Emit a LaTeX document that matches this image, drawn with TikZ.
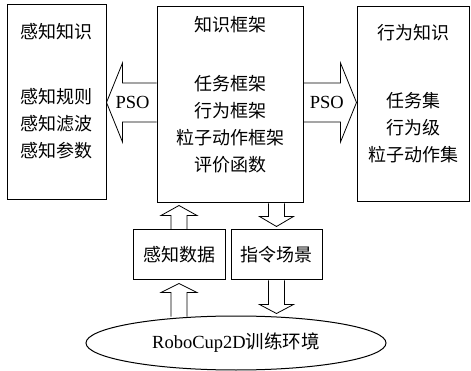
\documentclass[tikz,border=0pt]{standalone}
\usepackage{fontspec}
\setmainfont{Liberation Serif}
\newfontfamily\cjk{Noto Sans CJK SC}
\usepackage{tikz}
\usetikzlibrary{positioning, calc, shapes.geometric}
\tikzset{
    boite/.style={draw, line width=1pt, rectangle, inner sep=0pt},
    texte/.style={font={\cjk\fontsize{18}{27}\selectfont}, align=center, inner sep=0pt},
    lat/.style={font={\fontsize{18.5}{27}\selectfont}, inner sep=0pt},
    bloc/.style={draw, line width=0.8pt, line join=miter},
}

\begin{document}
\begin{tikzpicture}[x=1pt, y=-1pt]
    \useasboundingbox (0,0) rectangle (471,371);

    % Trois grands blocs
    \node[boite, minimum width=99pt, minimum height=195pt] (perception) at (56.5, 102.5) {};
    \node[boite, minimum width=146pt, minimum height=196pt] (cadre) at (230, 105) {};
    \node[boite, minimum width=112pt, minimum height=195pt] (action) at (413, 104.5) {};

    % Textes des blocs
    \node[texte] (tPerception) at (56.5, 32) {感知知识};
    \node[texte] (lPerception) at (56.5, 123.5) {感知规则\\感知滤波\\感知参数};
    \node[texte] (tCadre) at (230, 25) {知识框架};
    \node[texte] (lCadre) at (230, 124) {任务框架\\行为框架\\粒子动作框架\\评价函数};
    \node[texte] (tAction) at (413, 33) {行为知识};
    \node[texte] (lAction) at (413, 127.5) {任务集\\行为级\\粒子动作集};

    % Petits blocs et environnement
    \node[boite, texte, minimum width=92pt, minimum height=50pt] (donnees) at (179, 255) {感知数据};
    \node[boite, texte, minimum width=91pt, minimum height=50pt] (scene) at (276.5, 255) {指令场景};
    \node[draw, line width=1pt, ellipse, inner sep=0pt, minimum width=300pt, minimum height=54pt, lat] (env) at (236, 343) {RoboCup2D{\cjk 训练环境}};

    % Flèche PSO vers la gauche
    \coordinate (pG) at (perception.east);
    \coordinate (bG) at (cadre.west |- perception.east);
    \draw[bloc] ($(bG)+(0,-19.5)$) -- ($(pG)+(16,-19.5)$) -- ($(pG)+(16,-39.5)$) -- (pG)
        -- ($(pG)+(16,39.5)$) -- ($(pG)+(16,19.5)$) -- ($(bG)+(0,19.5)$);
    \node[lat] (psoG) at ($(pG)!0.52!(bG)$) {PSO};

    % Flèche PSO vers la droite
    \coordinate (pD) at (action.west |- perception.east);
    \coordinate (bD) at (cadre.east |- perception.east);
    \draw[bloc] ($(bD)+(0,-19.5)$) -- ($(pD)+(-16,-19.5)$) -- ($(pD)+(-16,-39.5)$) -- (pD)
        -- ($(pD)+(-16,39.5)$) -- ($(pD)+(-16,19.5)$) -- ($(bD)+(0,19.5)$);
    \node[lat] (psoD) at ($(bD)!0.44!(pD)$) {PSO};

    % Petites flèches entre le cadre et les petits blocs
    \coordinate (hD) at ($(cadre.south -| donnees.north)+(0,2)$);
    \draw[bloc] ($(donnees.north)+(-8,0)$) -- ($(hD)+(-8,10)$) -- ($(hD)+(-18,10)$) -- (hD)
        -- ($(hD)+(18,10)$) -- ($(hD)+(8,10)$) -- ($(donnees.north)+(8,0)$);
    \coordinate (bS) at (cadre.south -| scene.north);
    \coordinate (tS) at ($(scene.north)+(0,-3)$);
    \draw[bloc] ($(bS)+(-8,0)$) -- ($(tS)+(-8,-10)$) -- ($(tS)+(-17,-10)$) -- (tS)
        -- ($(tS)+(17,-10)$) -- ($(tS)+(8,-10)$) -- ($(bS)+(8,0)$);

    % Petites flèches entre l'environnement et les petits blocs
    \coordinate (eD) at ($(env.north -| donnees.south)+(0,1)$);
    \coordinate (hE) at ($(donnees.south)+(0,3)$);
    \draw[bloc] ($(eD)+(-8,0)$) -- ($(hE)+(-8,9)$) -- ($(hE)+(-18,9)$) -- (hE)
        -- ($(hE)+(18,9)$) -- ($(hE)+(8,9)$) -- ($(eD)+(8,0)$);
    \coordinate (tE) at ($(env.north -| scene.south)+(0,-2)$);
    \draw[bloc] ($(scene.south)+(-8,0)$) -- ($(tE)+(-8,-9)$) -- ($(tE)+(-17,-9)$) -- (tE)
        -- ($(tE)+(17,-9)$) -- ($(tE)+(8,-9)$) -- ($(scene.south)+(8,0)$);
\end{tikzpicture}
\end{document}
